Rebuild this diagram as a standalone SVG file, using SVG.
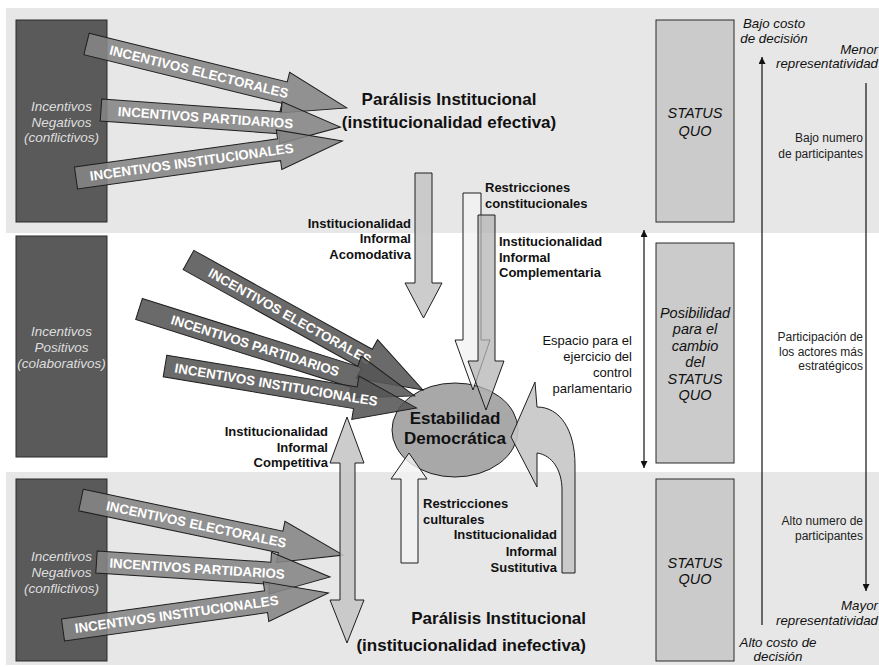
<svg xmlns="http://www.w3.org/2000/svg" width="879" height="667" viewBox="0 0 879 667">
  <style>
    text { font-family: "Liberation Sans", Arial, sans-serif; }
    .band { fill: #e7e7e7; }
    .dark { fill: #5a5a5a; stroke: #2a2a2a; stroke-width: 1; }
    .dtxt { fill: #dedede; font-size: 13.5px; font-style: italic; text-anchor: middle; }
    .sq { fill: #cbcbcb; stroke: #2a2a2a; stroke-width: 1; }
    .sqtxt { fill: #111; font-size: 14.5px; font-style: italic; text-anchor: middle; }
    .incA { fill: #858585; fill-opacity: 0.88; stroke: #1e1e1e; stroke-width: 1; }
    .incB { fill: #555555; fill-opacity: 0.88; stroke: #1e1e1e; stroke-width: 1; }
    .itxt { fill: #ffffff; font-size: 13.3px; font-weight: bold; }
    .varr { fill: #c6c6c6; fill-opacity: 0.9; stroke: #1e1e1e; stroke-width: 1; }
    .lite { fill: #f2f2f2; fill-opacity: 0.8; stroke: #1e1e1e; stroke-width: 1; }
    .comp { fill: #b4b4b4; fill-opacity: 0.75; stroke: #1e1e1e; stroke-width: 1; }
    .lbl { fill: #111; font-size: 13px; font-weight: bold; }
    .head { fill: #111; font-size: 17px; font-weight: bold; }
    .side { fill: #222; font-size: 12px; text-anchor: end; }
    .ital { fill: #111; font-size: 13.3px; font-style: italic; }
    .axis { stroke: #111; stroke-width: 1.2; fill: none; }
  </style>
  <defs>
    <marker id="tip" viewBox="0 0 10 10" refX="10" refY="5" markerWidth="7" markerHeight="7" orient="auto-start-reverse" markerUnits="userSpaceOnUse">
      <path d="M0,0 L10,5 L0,10 Z" fill="#111"/>
    </marker>
  </defs>

  <!-- background bands -->
  <rect class="band" x="6" y="8" width="873" height="225"/>
  <rect class="band" x="6" y="472" width="873" height="193"/>

  <!-- incentive source boxes -->
  <g id="neg-top">
    <rect class="dark" x="16" y="20" width="91" height="202"/>
    <text class="dtxt" x="61.5" y="111">Incentivos</text>
    <text class="dtxt" x="61.5" y="127">Negativos</text>
    <text class="dtxt" x="61.5" y="142">(conflictivos)</text>
  </g>
  <g id="pos-mid">
    <rect class="dark" x="16" y="236" width="91" height="221"/>
    <text class="dtxt" x="61.5" y="336">Incentivos</text>
    <text class="dtxt" x="61.5" y="352">Positivos</text>
    <text class="dtxt" x="61.5" y="368">(colaborativos)</text>
  </g>
  <g id="neg-bottom">
    <rect class="dark" x="16" y="479" width="91" height="182"/>
    <text class="dtxt" x="61.5" y="561">Incentivos</text>
    <text class="dtxt" x="61.5" y="577">Negativos</text>
    <text class="dtxt" x="61.5" y="593">(conflictivos)</text>
  </g>

  <!-- status quo column -->
  <g id="sq-top">
    <rect class="sq" x="656" y="20" width="78" height="202"/>
    <text class="sqtxt" x="695" y="118">STATUS</text>
    <text class="sqtxt" x="695" y="136">QUO</text>
  </g>
  <g id="sq-mid">
    <rect class="sq" x="656" y="243" width="78" height="220"/>
    <text class="sqtxt" x="695" y="318">Posibilidad</text>
    <text class="sqtxt" x="695" y="334">para el</text>
    <text class="sqtxt" x="695" y="351">cambio</text>
    <text class="sqtxt" x="695" y="367">del</text>
    <text class="sqtxt" x="695" y="384">STATUS</text>
    <text class="sqtxt" x="695" y="400">QUO</text>
  </g>
  <g id="sq-bottom">
    <rect class="sq" x="656" y="479" width="78" height="182"/>
    <text class="sqtxt" x="695" y="568">STATUS</text>
    <text class="sqtxt" x="695" y="584">QUO</text>
  </g>

  <!-- scale labels -->
  <g id="scales">
    <text class="ital" x="774" y="28" text-anchor="middle">Bajo costo</text>
    <text class="ital" x="774" y="43" text-anchor="middle">de decisión</text>
    <text class="ital" x="878" y="54" text-anchor="end">Menor</text>
    <text class="ital" x="878" y="68" text-anchor="end">representatividad</text>
    <text class="side" x="863" y="142">Bajo numero</text>
    <text class="side" x="863" y="158">de participantes</text>
    <text class="side" x="863" y="341">Participación de</text>
    <text class="side" x="863" y="356">los actores más</text>
    <text class="side" x="863" y="370">estratégicos</text>
    <text class="side" x="863" y="525">Alto numero de</text>
    <text class="side" x="863" y="540">participantes</text>
    <text class="ital" x="878" y="610" text-anchor="end">Mayor</text>
    <text class="ital" x="878" y="625" text-anchor="end">representatividad</text>
    <text class="ital" x="778" y="647" text-anchor="middle">Alto costo de</text>
    <text class="ital" x="778" y="661" text-anchor="middle">decisión</text>
    <text x="632" y="345" font-size="13" fill="#111" text-anchor="end">Espacio para el</text>
    <text x="632" y="361" font-size="13" fill="#111" text-anchor="end">ejercicio del</text>
    <text x="632" y="377" font-size="13" fill="#111" text-anchor="end">control</text>
    <text x="632" y="393" font-size="13" fill="#111" text-anchor="end">parlamentario</text>
  </g>

  <!-- outcome ellipse -->
  <g id="estabilidad">
    <ellipse cx="455" cy="430" rx="63" ry="47" fill="#a8a8a8" stroke="#1e1e1e" stroke-width="1"/>
  </g>

  <!-- connectors -->
  <g id="connectors">
    <!-- scale axes -->
    <line class="axis" x1="762" y1="625" x2="762" y2="57" marker-end="url(#tip)"/>
    <line class="axis" x1="866" y1="83" x2="866" y2="591" marker-end="url(#tip)"/>
    <line class="axis" x1="644" y1="230" x2="644" y2="468" marker-start="url(#tip)" marker-end="url(#tip)"/>

    <!-- negative incentives, upper block -->
    <g transform="translate(86.5,44) rotate(13.8)">
      <polygon class="incA" points="0,-11 204,-11 204,-21 268,0 204,21 204,11 0,11"/>
      <text class="itxt" x="24" y="4.7">INCENTIVOS ELECTORALES</text>
    </g>
    <g transform="translate(101,110) rotate(4.07)">
      <polygon class="incA" points="0,-11 180,-11 180,-21 240,0 180,21 180,11 0,11"/>
      <text class="itxt" x="17" y="4.7">INCENTIVOS PARTIDARIOS</text>
    </g>
    <g transform="translate(76,178) rotate(-7.92)">
      <polygon class="incA" points="0,-11 205,-11 205,-20 269,0 205,20 205,11 0,11"/>
      <text class="itxt" x="14" y="4.7">INCENTIVOS INSTITUCIONALES</text>
    </g>

    <!-- negative incentives, lower block -->
    <g transform="translate(81,500) rotate(11.86)">
      <polygon class="incA" points="0,-11 204,-11 204,-21 268,0 204,21 204,11 0,11"/>
      <text class="itxt" x="26" y="4.7">INCENTIVOS ELECTORALES</text>
    </g>
    <g transform="translate(96.5,562) rotate(3.68)">
      <polygon class="incA" points="0,-11 174,-11 174,-21 234,0 174,21 174,11 0,11"/>
      <text class="itxt" x="13" y="4.7">INCENTIVOS PARTIDARIOS</text>
    </g>
    <g transform="translate(63,630) rotate(-7.95)">
      <polygon class="incA" points="0,-11 205,-11 205,-20 268,0 205,20 205,11 0,11"/>
      <text class="itxt" x="12" y="4.7">INCENTIVOS INSTITUCIONALES</text>
    </g>

    <!-- positive incentives toward the ellipse -->
    <g transform="translate(188.5,260) rotate(29)">
      <polygon class="incB" points="0,-11 204,-11 204,-22 268,0 204,22 204,11 0,11"/>
      <text class="itxt" x="24" y="4.7">INCENTIVOS ELECTORALES</text>
    </g>
    <g transform="translate(139,309) rotate(17.5)">
      <polygon class="incB" points="0,-11 226,-11 226,-22 289,0 226,22 226,11 0,11"/>
      <text class="itxt" x="34" y="4.7">INCENTIVOS PARTIDARIOS</text>
    </g>
    <g transform="translate(165,366) rotate(9.46)">
      <polygon class="incB" points="0,-11 193,-11 193,-22 255,0 193,22 193,11 0,11"/>
      <text class="itxt" x="10" y="4.7">INCENTIVOS INSTITUCIONALES</text>
    </g>

    <!-- vertical institutional arrows -->
    <polygon class="varr" points="415,173 432,173 432,283 442,283 423.5,318 405,283 415,283"/>
    <polygon class="lite" points="463,193 481,193 481,340 490,340 473,390 455,340 463,340"/>
    <polygon class="comp" points="478,215 495,215 495,361 504,361 486,410 468,361 478,361"/>
    <polygon class="varr" points="347,417 364,463 355,463 355,600 364,600 347,643 330,600 340,600 340,463 330,463"/>
    <polygon class="lite" points="409,453 427,479 418,479 418,563 401,563 401,479 391,479"/>
    <path class="varr" d="M511,437 L535,382 L537,407 C560,407 575,430 575,465 L575,573 L562,573 L562,490 C562,470 552,455 537,453 L537,487 Z"/>
  </g>

  <!-- ellipse caption above arrows -->
  <text class="head" x="455" y="424" text-anchor="middle">Estabilidad</text>
  <text class="head" x="455" y="444" text-anchor="middle">Democrática</text>

  <!-- headings -->
  <text class="head" x="449" y="105" text-anchor="middle">Parálisis Institucional</text>
  <text class="head" x="449" y="128" text-anchor="middle">(institucionalidad efectiva)</text>
  <text class="head" x="586" y="624" text-anchor="end">Parálisis Institucional</text>
  <text class="head" x="586" y="651" text-anchor="end">(institucionalidad inefectiva)</text>

  <!-- arrow labels -->
  <text class="lbl" x="411" y="228" text-anchor="end">Institucionalidad</text>
  <text class="lbl" x="411" y="243" text-anchor="end">Informal</text>
  <text class="lbl" x="411" y="259" text-anchor="end">Acomodativa</text>
  <text class="lbl" x="485" y="192">Restricciones</text>
  <text class="lbl" x="485" y="208">constitucionales</text>
  <text class="lbl" x="499" y="246">Institucionalidad</text>
  <text class="lbl" x="499" y="262">Informal</text>
  <text class="lbl" x="499" y="277">Complementaria</text>
  <text class="lbl" x="328" y="436" text-anchor="end">Institucionalidad</text>
  <text class="lbl" x="328" y="452" text-anchor="end">Informal</text>
  <text class="lbl" x="328" y="467" text-anchor="end">Competitiva</text>
  <text class="lbl" x="423" y="508">Restricciones</text>
  <text class="lbl" x="423" y="524">culturales</text>
  <text class="lbl" x="557" y="539" text-anchor="end">Institucionalidad</text>
  <text class="lbl" x="557" y="556" text-anchor="end">Informal</text>
  <text class="lbl" x="557" y="572" text-anchor="end">Sustitutiva</text>
</svg>
